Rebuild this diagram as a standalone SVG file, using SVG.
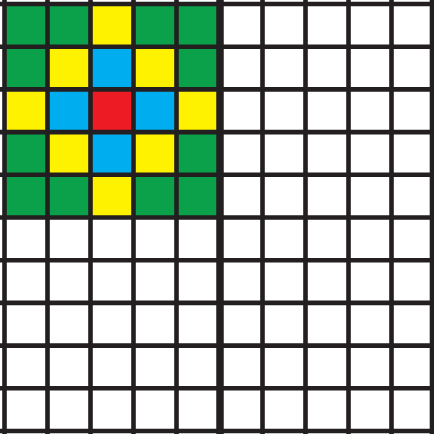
<svg xmlns="http://www.w3.org/2000/svg" width="434" height="434" viewBox="0 0 434 434">
<style>
.g{fill:#0ba14b}.y{fill:#fff200}.b{fill:#00aeef}.r{fill:#ed1c24}
.ln{stroke:#231f20;stroke-width:4.6;fill:none}
.mid{stroke:#231f20;stroke-width:7.5;fill:none}
</style>
<rect x="0" y="0" width="434" height="434" fill="#ffffff"/>
<g id="cells">
<!-- row 0 -->
<rect class="g" x="4.5" y="4" width="43" height="42.7"/>
<rect class="g" x="47.5" y="4" width="43" height="42.7"/>
<rect class="y" x="90.5" y="4" width="43" height="42.7"/>
<rect class="g" x="133.5" y="4" width="43" height="42.7"/>
<rect class="g" x="176.5" y="4" width="43" height="42.7"/>
<!-- row 1 -->
<rect class="g" x="4.5" y="46.7" width="43" height="42.7"/>
<rect class="y" x="47.5" y="46.7" width="43" height="42.7"/>
<rect class="b" x="90.5" y="46.7" width="43" height="42.7"/>
<rect class="y" x="133.5" y="46.7" width="43" height="42.7"/>
<rect class="g" x="176.5" y="46.7" width="43" height="42.7"/>
<!-- row 2 -->
<rect class="y" x="4.5" y="89.4" width="43" height="42.7"/>
<rect class="b" x="47.5" y="89.4" width="43" height="42.7"/>
<rect class="r" x="90.5" y="89.4" width="43" height="42.7"/>
<rect class="b" x="133.5" y="89.4" width="43" height="42.7"/>
<rect class="y" x="176.5" y="89.4" width="43" height="42.7"/>
<!-- row 3 -->
<rect class="g" x="4.5" y="132.1" width="43" height="42.7"/>
<rect class="y" x="47.5" y="132.1" width="43" height="42.7"/>
<rect class="b" x="90.5" y="132.1" width="43" height="42.7"/>
<rect class="y" x="133.5" y="132.1" width="43" height="42.7"/>
<rect class="g" x="176.5" y="132.1" width="43" height="42.7"/>
<!-- row 4 -->
<rect class="g" x="4.5" y="174.8" width="43" height="42.7"/>
<rect class="g" x="47.5" y="174.8" width="43" height="42.7"/>
<rect class="y" x="90.5" y="174.8" width="43" height="42.7"/>
<rect class="g" x="133.5" y="174.8" width="43" height="42.7"/>
<rect class="g" x="176.5" y="174.8" width="43" height="42.7"/>
</g>
<g id="grid">
<path class="ln" d="M4.5 0V434M47.5 0V434M90.5 0V434M133.5 0V434M176.5 0V434M262.5 0V434M305.5 0V434M348.5 0V434M391.5 0V434M432 0V434"/>
<path class="ln" d="M0 4H434M0 46.7H434M0 89.4H434M0 132.1H434M0 174.8H434M0 217.5H434M0 260.2H434M0 302.9H434M0 345.6H434M0 388.3H434M0 431H434"/>
<path class="mid" d="M220 0V434"/>
</g>
</svg>
